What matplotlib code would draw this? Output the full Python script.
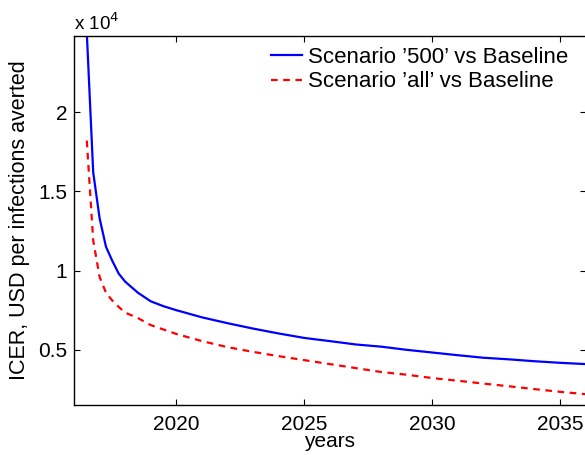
import numpy as np
import matplotlib
matplotlib.use('Agg')
import matplotlib.pyplot as plt

plt.rcParams['font.family'] = ['Liberation Sans', 'DejaVu Sans']

# ICER (USD per infection averted)
years = [2016.5, 2016.75, 2017.0, 2017.25, 2017.5, 2017.75, 2018.0, 2018.5,
         2019.0, 2019.5, 2020, 2021, 2022, 2023, 2024, 2025, 2026, 2027,
         2028, 2029, 2030, 2031, 2032, 2033, 2034, 2035, 2036]
icer_500 = [25000, 16200, 13300, 11500, 10600, 9800, 9300, 8600,
            8060, 7750, 7500, 7050, 6680, 6340, 6030, 5750, 5550, 5340,
            5200, 5000, 4830, 4660, 4500, 4400, 4280, 4180, 4100]
icer_all = [18200, 11900, 9600, 8600, 8100, 7700, 7350, 7000,
            6560, 6280, 6000, 5550, 5170, 4870, 4600, 4350, 4100, 3850,
            3600, 3430, 3220, 3050, 2870, 2700, 2520, 2350, 2200]

labels = ["Scenario \u2019500\u2019 vs Baseline", "Scenario \u2019all\u2019 vs Baseline"]
xticks = [2020, 2025, 2030, 2035]
yticks = [5000, 10000, 15000, 20000]
yticklabels = ['0.5', '1', '1.5', '2']

fig = plt.figure(figsize=(5.85, 4.55), dpi=100)
ax = fig.add_axes([74/585, 1 - 405/455, 512/585, 369/455])

ax.plot(years, icer_500, color='#0000ff', lw=1.6, label=labels[0])
ax.plot(years, icer_all, color='#ff0000', lw=1.6, ls=(0, (3.0, 2.5)), label=labels[1])

ax.set_xlim(2016, 2036)
ax.set_ylim(1520, 24800)
ax.set_xticks(xticks)
ax.set_yticks(yticks)
ax.set_yticklabels(yticklabels)
ax.tick_params(direction='in', length=4, width=0.8, top=True, right=True,
               labelsize=15)
ax.tick_params(axis='x', pad=7)
ax.tick_params(axis='y', pad=5)
for s in ax.spines.values():
    s.set_linewidth(1.0)

ax.set_xlabel('years', fontsize=15, labelpad=-1)
ax.set_ylabel('ICER, USD per infections averted', fontsize=15.5, labelpad=6)
ax.text(0, 1.005, r'x 10$^{4}$', transform=ax.transAxes, fontsize=13.5,
        ha='left', va='bottom')

ax.legend(loc='upper left', bbox_to_anchor=(271/585, 1 - 47/455),
          bbox_transform=fig.transFigure, frameon=False, fontsize=16,
          handlelength=1.4, handletextpad=0.27, labelspacing=0.15,
          borderaxespad=0, borderpad=0)

fig.savefig('out.png', dpi=100)
